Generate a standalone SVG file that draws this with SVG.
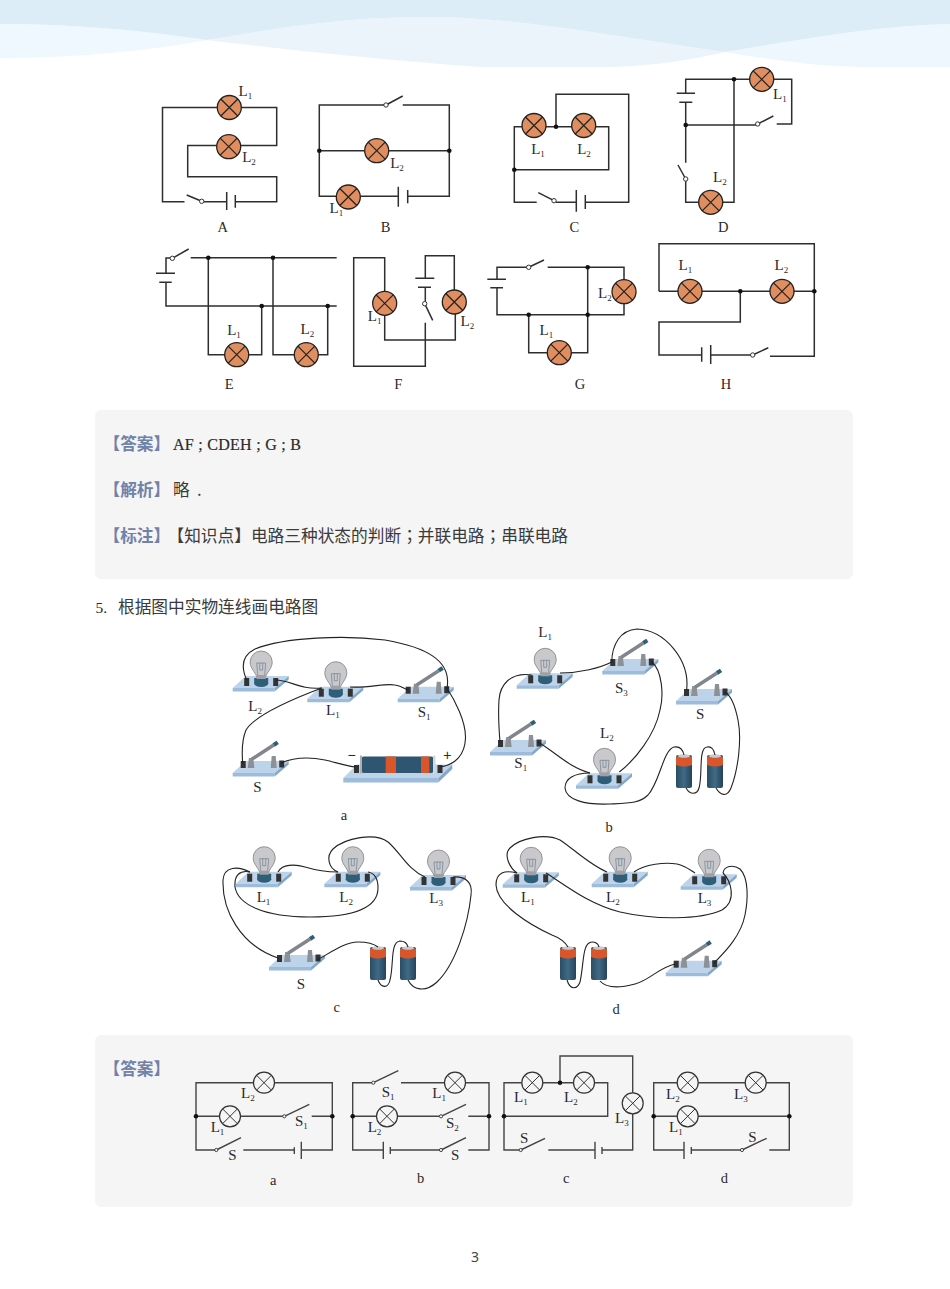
<svg xmlns="http://www.w3.org/2000/svg" width="950" height="1289" viewBox="0 0 950 1289">
<style>
text{font-family:"Liberation Serif","Noto Sans CJK SC",serif;fill:#2a2a2a}
.t{font-size:15px}
.b{font-size:9px}
.c{font-size:14.5px;text-anchor:middle}
.cjk{font-family:"Noto Sans CJK SC",sans-serif;font-size:16.7px;fill:#3a3a3a}
.tc{font-family:"Noto Sans CJK TC",sans-serif}
.h{font-family:"Noto Sans CJK SC",sans-serif;font-size:16.7px;font-weight:700;fill:#6f82a8}
.w{fill:none;stroke:#2e2e2e;stroke-width:1.5}
.p{fill:none;stroke:#222;stroke-width:1.1}
.a{fill:none;stroke:#444;stroke-width:1.4}
.dot{fill:#111}
.sw{fill:#fff;stroke:#333;stroke-width:1}
.swa{fill:#f5f5f6;stroke:#333;stroke-width:.9}
</style>
<defs>
<g id="lamp"><circle r="12" fill="#e08d5f" stroke="#222" stroke-width="1.3"/><path d="M-8.5-8.5L8.5 8.5M-8.5 8.5L8.5-8.5" stroke="#222" stroke-width="1.2" fill="none"/></g>
<g id="lampa"><circle r="10.5" fill="#f5f5f6" stroke="#333" stroke-width="1.2"/><path d="M-7.4-7.4L7.4 7.4M-7.4 7.4L7.4-7.4" stroke="#333" stroke-width="1" fill="none"/></g>
<g id="board"><polygon points="0,-3 42,-3 56,-15 13,-15" fill="#bdd3ea"/><polygon points="0,-3 42,-3 42,0.5 0,0.5" fill="#9dbcdc"/><polygon points="42,-3 56,-15 56,-11.5 42,0.5" fill="#84a8cc"/></g>
<g id="bulbkit"><use href="#board"/>
<ellipse cx="28.5" cy="-7.5" rx="7" ry="3.5" fill="#2f5f78"/><rect x="21.5" y="-13" width="14" height="5.5" fill="#2f5f78"/>
<path d="M24-14C23-19 17.5-22 17.5-29A11 11 0 0 1 39.5-29C39.5-22 34-19 33-14Z" fill="#c9c9cc" stroke="#8a8a8e" stroke-width=".9"/>
<rect x="24" y="-16" width="9" height="4" fill="#a0a0a6"/>
<path d="M25-16L24-28H33L32-16M27-28V-21H30V-28" fill="none" stroke="#6d7f92" stroke-width=".7"/>
<rect x="11.5" y="-13" width="5" height="8" fill="#333"/><rect x="40.5" y="-13" width="5" height="8" fill="#333"/></g>
<g id="knife"><use href="#board"/>
<rect x="8" y="-15" width="5" height="7" fill="#333"/><rect x="46.5" y="-15.5" width="5" height="7" fill="#333"/>
<polygon points="15,-8 21.7,-8 20.5,-18 16.2,-18" fill="#8d9095"/><polygon points="38,-8 44,-8 43,-20 39,-20" fill="#8d9095"/>
<path d="M19-16.7L41-31" stroke="#80868c" stroke-width="3.5" fill="none"/><path d="M41-31L45-33.7" stroke="#2f5f78" stroke-width="4" fill="none"/></g>
<linearGradient id="cell" x1="0" x2="1" y1="0" y2="0"><stop offset="0" stop-color="#2b4d63"/><stop offset=".5" stop-color="#3f6a85"/><stop offset="1" stop-color="#25435a"/></linearGradient>
<g id="cellv"><rect x="-8" y="0" width="16" height="33" rx="2" fill="url(#cell)"/><path d="M-8 2Q0-2 8 2V10Q0 13-8 10Z" fill="#d9562a"/><ellipse cy="1" rx="6" ry="1.8" fill="#c6c9cc"/></g>
</defs>
<rect width="950" height="1289" fill="#fff"/>
<g id="header">
<path d="M0 24C70 24 140 30 207 40C140 52 70 58 0 58Z" fill="#eff8fe"/>
<path d="M207 40C280 28 340 17 430 17C520 17 620 38 725 52C690 60 650 67 600 67H480C380 60 290 50 207 40Z" fill="#ebf4fa"/>
<path d="M725 52C800 40 870 26 950 24V67H870C820 67 770 60 725 52Z" fill="#eef7fd"/>
<path d="M0 0H950V24C870 26 800 40 725 52C620 38 520 17 430 17C340 17 280 28 207 40C140 30 70 24 0 24Z" fill="#dcedf8"/>
</g>
<rect id="panel1" x="95" y="410" width="758" height="169" rx="6" fill="#f5f5f6"/>
<rect id="panel2" x="95" y="1035" width="758" height="172" rx="6" fill="#f5f5f6"/>
<g id="answer-text">
<text class="h" x="103.5" y="450">【答案】</text>
<text x="173" y="450" font-size="16" textLength="128" stroke="#2a2a2a" stroke-width=".2">AF ; CDEH ; G ; B</text>
<text class="h" x="103.5" y="495.5">【解析】</text>
<text class="cjk" x="173" y="495.5">略</text><text class="cjk" x="197" y="495.5">.</text>
<text class="h" x="103.5" y="542">【标注】</text>
<text class="cjk" x="167.5" y="542">【知识点】电路三种状态的判断<tspan class="tc">；</tspan>并联电路<tspan class="tc">；</tspan>串联电路</text>
<text x="95.5" y="612.5" font-size="15.5" fill="#3a3a3a">5.</text>
<text class="cjk" x="118" y="613">根据图中实物连线画电路图</text>
<text class="h" x="103.5" y="1074.5">【答案】</text>
<text x="475" y="1262" text-anchor="middle" font-size="14" style="font-family:'Noto Sans',sans-serif;fill:#444">3</text>
</g>

<!-- physical parts (below wires) -->
<g id="phys-a-L2"><use href="#bulbkit" x="232.7" y="691"/><text class="t" x="248.3" y="710.7">L<tspan class="b" dy="3">2</tspan></text></g>
<g id="phys-a-L1"><use href="#bulbkit" x="307.3" y="701.7"/><text class="t" x="326" y="715">L<tspan class="b" dy="3">1</tspan></text></g>
<g id="phys-a-S1"><use href="#knife" x="397.7" y="701.7"/><text class="t" x="417.7" y="717.3">S<tspan class="b" dy="3">1</tspan></text></g>
<g id="phys-a-S"><use href="#knife" x="232.7" y="776"/><text class="t" x="253.3" y="791.7">S</text></g>
<g id="phys-a-bat">
<polygon points="343.3,778 438.3,778 452.3,764.5 357,764.5" fill="#bdd3ea"/><polygon points="343.3,778 438.3,778 438.3,782.5 343.3,782.5" fill="#9dbcdc"/><polygon points="438.3,778 452.3,764.5 452.3,769 438.3,782.5" fill="#84a8cc"/>
<rect x="361.7" y="756.5" width="71.6" height="16.5" rx="2" fill="#2f5670"/>
<rect x="385.7" y="756.5" width="10.3" height="16.5" fill="#d9562a"/><rect x="421" y="756.5" width="8.3" height="16.5" fill="#d9562a"/>
<rect x="433" y="755.5" width="2.5" height="18" fill="#d5d8db"/><rect x="360" y="755.5" width="2" height="18" fill="#aab0b5"/>
<rect x="354" y="765" width="5" height="8" fill="#333"/><rect x="437.5" y="765" width="5" height="8" fill="#333"/>
<text x="351.7" y="760" font-size="14" text-anchor="middle" style="font-family:'Liberation Sans'">−</text><text x="447.3" y="760" font-size="14" text-anchor="middle" style="font-family:'Liberation Sans'">+</text></g>
<g id="phys-b-L1"><use href="#bulbkit" x="516.7" y="688.3"/><text class="t" x="538.3" y="637.3">L<tspan class="b" dy="3">1</tspan></text></g>
<g id="phys-b-S3"><use href="#knife" x="602.3" y="674"/><text class="t" x="615" y="692.7">S<tspan class="b" dy="3">3</tspan></text></g>
<g id="phys-b-S"><use href="#knife" x="676" y="704"/><text class="t" x="696" y="719.3">S</text></g>
<g id="phys-b-S1"><use href="#knife" x="490" y="755"/><text class="t" x="514.3" y="768.3">S<tspan class="b" dy="3">1</tspan></text></g>
<g id="phys-b-L2"><use href="#bulbkit" x="576" y="788.3"/><text class="t" x="600" y="738.3">L<tspan class="b" dy="3">2</tspan></text></g>
<g id="phys-b-cell1"><use href="#cellv" x="684" y="755"/></g>
<g id="phys-b-cell2"><use href="#cellv" x="715" y="755"/></g>
<g id="phys-c-L1"><use href="#bulbkit" x="235.7" y="886.7"/><text class="t" x="256.7" y="901.7">L<tspan class="b" dy="3">1</tspan></text></g>
<g id="phys-c-L2"><use href="#bulbkit" x="324.3" y="886.7"/><text class="t" x="339.3" y="901.7">L<tspan class="b" dy="3">2</tspan></text></g>
<g id="phys-c-L3"><use href="#bulbkit" x="410" y="890"/><text class="t" x="429.3" y="903.3">L<tspan class="b" dy="3">3</tspan></text></g>
<g id="phys-c-S"><use href="#knife" x="269" y="970"/><text class="t" x="296.7" y="989.3">S</text></g>
<g id="phys-c-cell1"><use href="#cellv" x="378" y="947"/></g>
<g id="phys-c-cell2"><use href="#cellv" x="408" y="947"/></g>
<g id="phys-d-L1"><use href="#bulbkit" x="502.7" y="887.3"/><text class="t" x="521" y="901.7">L<tspan class="b" dy="3">1</tspan></text></g>
<g id="phys-d-L2"><use href="#bulbkit" x="591.7" y="886.7"/><text class="t" x="606" y="901.7">L<tspan class="b" dy="3">2</tspan></text></g>
<g id="phys-d-L3"><use href="#bulbkit" x="680.7" y="889.3"/><text class="t" x="697.7" y="902.7">L<tspan class="b" dy="3">3</tspan></text></g>
<g id="phys-d-S"><use href="#knife" x="665.7" y="975.7"/></g>
<g id="phys-d-cell1"><use href="#cellv" x="568" y="947"/></g>
<g id="phys-d-cell2"><use href="#cellv" x="599" y="947"/></g>

<g id="connectors">
<!-- A -->
<path class="w" d="M184.5 201.7H162.5V107.5H276.7V145.5H187.7V176.7H276.7V201.7H235.3M203.5 201.7H226.7"/>
<!-- B -->
<path class="w" d="M384 105H319.3V196.3H398.3M402.7 105H449.3V196.3H407.7M319.3 150.7H449.3"/>
<!-- C -->
<path class="w" d="M536.7 202.3H514.3V126.7H608.7V169.7H514.3M556 126.7V94.3H628.7V202.3H585.3M556 202.3H576.3"/>
<!-- D -->
<path class="w" d="M685.7 93.3V79.3H791.7V124H776.7M685.7 102.3V162.7M685.7 125H756M734 79.3V202.3H685.7V181"/>
<!-- E -->
<path class="w" d="M166 273.3V258H170.3M190.7 257.7H336.7M166 282.3V306H336.7M208.3 257.7V354.7H261.7V306M273 257.7V354.7H327.7V306"/>
<!-- F -->
<path class="w" d="M384.7 303V257.7H353.7V366.3H425.3V322.7M384.7 303V340H455.3V302M454.3 302V255.7H425.3V278.3M425.3 287.3V301.7"/>
<!-- G -->
<path class="w" d="M497 279.3V267.3H527M547.7 267.3H624V314.7H497V287.7M587.7 267.3V352.7H528.7V314.7"/>
<!-- H -->
<path class="w" d="M659 291.3V243.7H814.3V356.3H770M659 291.3H814.3M740.3 291.3V322H659V355H701.7M710.7 355H751"/>
<!-- batteries as wire-drawn plates -->
<path class="w" d="M226.7 192V210M235.3 195V207.7M398.3 186.7V206.7M407.7 190V203.3M576.3 190V211.7M585.3 195V209M676.7 93.3H695M679.3 102.3H692.3M156 273.3H175M159.3 282.3H171.7M415.3 278.3H434.3M418 287.3H431M487.3 279.3H506M490.3 287.7H503M701.7 347.3V361.7M710.7 345V364"/>
<!-- physical wires -->
<path class="p" d="M246.7 680C240 665 243 655 255 649C285 637 345 635 385 640C425 647 452 660 447 688"/>
<path class="p" d="M275.7 680C290 680 300 690 321.7 688"/>
<path class="p" d="M321.7 688C290 700 255 715 246 730C241 742 242 755 242.7 763"/>
<path class="p" d="M350 687C370 688 385 683 395 685C402 686 404 689 408.3 690"/>
<path class="p" d="M446.7 688C455 700 466 722 465.5 738C465 755 455 765 440 767"/>
<path class="p" d="M281 763C295 757 310 757 325 760C335 762 345 766 356 767"/>
<path class="p" d="M531.7 675C510 672 500 685 499 700C498 715 499 730 500 742"/>
<path class="p" d="M560 673C580 673 600 668 611.7 662"/>
<path class="p" d="M611.7 662C612 645 620 630 637 629C665 630 690 660 686.7 690"/>
<path class="p" d="M651.7 662C662 670 664 695 660 710C655 735 635 760 619.3 772"/>
<path class="p" d="M538 742C555 752 570 768 590 773"/>
<path class="p" d="M590 773C575 773 565 778 565 788C566 800 585 805 610 804C630 803 640 803 648 795C660 782 663 750 674 747C680 746 683 750 684 755"/>
<path class="p" d="M686 788C690 795 697 795 699 788C703 775 698 748 707 747C712 746 714 750 715 755"/>
<path class="p" d="M716 788C720 795 727 798 731 788C738 770 742 740 738 720C735 705 730 695 725 692"/>
<path class="p" d="M250 872C238 866 224 866 223 880C222 910 240 945 278 958"/>
<path class="p" d="M250 872C240 870 234 875 235 887C238 905 265 917 310 917C350 917 378 910 378 888C378 878 374 873 368 872"/>
<path class="p" d="M278 872C282 864 295 864 305 867C315 870 328 872 338 872"/>
<path class="p" d="M338 872C328 868 326 856 333 849C345 838 375 832 388 842C400 852 408 870 425 877"/>
<path class="p" d="M453 877C465 876 473 882 471 895C468 925 455 965 437 982C425 993 413 990 408 980"/>
<path class="p" d="M317 960C330 953 345 942 358 942C368 942 373 943 378 947"/>
<path class="p" d="M378 980C381 988 388 989 390 980C394 965 390 942 400 941C405 941 407 943 408 947"/>
<path class="p" d="M517 873C505 870 496 872 496 885C497 905 530 925 552 935C560 938 565 942 568 947"/>
<path class="p" d="M517 873C510 868 503 855 510 848C520 838 545 833 560 840C575 850 590 865 607 872"/>
<path class="p" d="M546 873C565 885 590 905 620 912C655 920 700 920 722 910C738 900 730 880 723 873"/>
<path class="p" d="M634 872C645 864 665 862 677 864C686 866 690 870 695 873"/>
<path class="p" d="M723 873C724 866 733 864 740 869C749 878 748 900 745 915C741 935 727 950 714 963"/>
<path class="p" d="M567 980C570 990 577 990 580 982C584 965 582 942 592 942C596 942 598 943 599 947"/>
<path class="p" d="M600 981C606 988 620 988 635 984C650 980 658 968 675 964"/>
<!-- answer a -->
<path class="a" d="M215 1150H196V1082.7H332.3V1150H301.3M243.3 1150H294.3M196 1116.3H283M311.7 1116.3H332.3"/>
<path class="a" d="M294.3 1147.3V1154M301.3 1141.7V1159"/>
<!-- answer b -->
<path class="a" d="M372 1082.7H352.7V1150H383.3M401 1082.7H489V1150H468.3M352.7 1116.3H440M468.3 1116.3H489M390.3 1150H440"/>
<path class="a" d="M383.3 1141.7V1159M390.3 1147V1154"/>
<!-- answer c -->
<path class="a" d="M519 1150H504V1082.7H607.7V1116.3H504M560 1082.7V1056H632.7V1150H602M548.3 1150H595"/>
<path class="a" d="M595 1141.7V1159M602 1147V1154"/>
<!-- answer d -->
<path class="a" d="M684 1150H653.7V1082.7H789.3V1150H769.3M653.7 1116.3H789.3M691.3 1150H741"/>
<path class="a" d="M684 1141.7V1159M691.3 1147V1154"/>
</g>

<!-- schematic A -->
<g id="A-L1"><use href="#lamp" x="229.3" y="107.5"/><text class="t" x="238.5" y="95.5">L<tspan class="b" dy="3">1</tspan></text></g>
<g id="A-L2"><use href="#lamp" x="228.7" y="146.7"/><text class="t" x="242.2" y="161.7">L<tspan class="b" dy="3">2</tspan></text></g>
<g id="A-S"><path class="w" d="M201.7 201.3L186.7 195"/><circle class="sw" cx="201.7" cy="201.3" r="2.2"/></g>
<text id="A-name" class="c" x="222.7" y="232">A</text>
<!-- B -->
<g id="B-L2"><use href="#lamp" x="376.7" y="150.7"/><text class="t" x="390.2" y="168.3">L<tspan class="b" dy="3">2</tspan></text></g>
<g id="B-L1"><use href="#lamp" x="348.3" y="197"/><text class="t" x="329.5" y="212.7">L<tspan class="b" dy="3">1</tspan></text></g>
<g id="B-S"><path class="w" d="M386 105L402.7 96"/><circle class="sw" cx="386" cy="105" r="2.2"/></g>
<circle class="dot" cx="319.3" cy="150.7" r="2.3"/><circle class="dot" cx="449.3" cy="150.7" r="2.3"/>
<text id="B-name" class="c" x="385.7" y="232">B</text>
<!-- C -->
<g id="C-L1"><use href="#lamp" x="534" y="125.5"/><text class="t" x="531.2" y="154.3">L<tspan class="b" dy="3">1</tspan></text></g>
<g id="C-L2"><use href="#lamp" x="583.7" y="125.5"/><text class="t" x="577.2" y="154.3">L<tspan class="b" dy="3">2</tspan></text></g>
<g id="C-S"><path class="w" d="M554 200.7L538.3 192.7"/><circle class="sw" cx="554" cy="200.7" r="2.2"/></g>
<circle class="dot" cx="556" cy="126.7" r="2.3"/><circle class="dot" cx="514.3" cy="169.7" r="2.3"/>
<text id="C-name" class="c" x="574.3" y="232">C</text>
<!-- D -->
<g id="D-L1"><use href="#lamp" x="761.7" y="79.3"/><text class="t" x="773" y="99.3">L<tspan class="b" dy="3">1</tspan></text></g>
<g id="D-L2"><use href="#lamp" x="710.7" y="202.3"/><text class="t" x="713" y="181.7">L<tspan class="b" dy="3">2</tspan></text></g>
<g id="D-S1"><path class="w" d="M757.7 124L773.3 116"/><circle class="sw" cx="757.7" cy="124" r="2.2"/></g>
<g id="D-S2"><path class="w" d="M685.7 179L678 165"/><circle class="sw" cx="685.7" cy="179" r="2.2"/></g>
<circle class="dot" cx="685.7" cy="125" r="2.3"/><circle class="dot" cx="734" cy="79.3" r="2.3"/>
<text id="D-name" class="c" x="723.3" y="232">D</text>
<!-- E -->
<g id="E-L1"><use href="#lamp" x="236.7" y="354.7"/><text class="t" x="227.2" y="335">L<tspan class="b" dy="3">1</tspan></text></g>
<g id="E-L2"><use href="#lamp" x="306.3" y="354.7"/><text class="t" x="300.5" y="334">L<tspan class="b" dy="3">2</tspan></text></g>
<g id="E-S"><path class="w" d="M172.3 258.3L188.7 249"/><circle class="sw" cx="172.3" cy="258.3" r="2.2"/></g>
<circle class="dot" cx="208.3" cy="257.7" r="2.3"/><circle class="dot" cx="273" cy="257.7" r="2.3"/><circle class="dot" cx="261.7" cy="306" r="2.3"/><circle class="dot" cx="327.7" cy="306" r="2.3"/>
<text id="E-name" class="c" x="229.3" y="389">E</text>
<!-- F -->
<g id="F-L1"><use href="#lamp" x="384.7" y="303.3"/><text class="t" x="367.8" y="320.7">L<tspan class="b" dy="3">1</tspan></text></g>
<g id="F-L2"><use href="#lamp" x="454.3" y="302"/><text class="t" x="460.5" y="326">L<tspan class="b" dy="3">2</tspan></text></g>
<g id="F-S"><path class="w" d="M424.7 303.7L432.7 320.3"/><circle class="sw" cx="424.7" cy="303.7" r="2.2"/></g>
<text id="F-name" class="c" x="398.3" y="389">F</text>
<!-- G -->
<g id="G-L2"><use href="#lamp" x="624" y="291.7"/><text class="t" x="598" y="298.3">L<tspan class="b" dy="3">2</tspan></text></g>
<g id="G-L1"><use href="#lamp" x="559.3" y="352.7"/><text class="t" x="539.5" y="335">L<tspan class="b" dy="3">1</tspan></text></g>
<g id="G-S"><path class="w" d="M528.7 267.3L544 260"/><circle class="sw" cx="528.7" cy="267.3" r="2.2"/></g>
<circle class="dot" cx="587.7" cy="267.3" r="2.3"/><circle class="dot" cx="587.7" cy="314.7" r="2.3"/><circle class="dot" cx="528.7" cy="314.7" r="2.3"/>
<text id="G-name" class="c" x="580" y="389">G</text>
<!-- H -->
<g id="H-L1"><use href="#lamp" x="690" y="291.3"/><text class="t" x="678.5" y="270">L<tspan class="b" dy="3">1</tspan></text></g>
<g id="H-L2"><use href="#lamp" x="782" y="291.3"/><text class="t" x="774.5" y="270">L<tspan class="b" dy="3">2</tspan></text></g>
<g id="H-S"><path class="w" d="M752.7 355L768.3 347.7"/><circle class="sw" cx="752.7" cy="355" r="2.2"/></g>
<circle class="dot" cx="740.3" cy="291.3" r="2.3"/><circle class="dot" cx="814.3" cy="291.3" r="2.3"/>
<text id="H-name" class="c" x="726" y="389">H</text>

<text id="phys-a-name" class="c" x="344" y="819.5">a</text>
<text id="phys-b-name" class="c" x="609" y="832">b</text>
<text id="phys-c-name" class="c" x="336.7" y="1012">c</text>
<text id="phys-d-name" class="c" x="616" y="1013.5">d</text>

<!-- answers a -->
<g id="ans-a-L2"><use href="#lampa" x="264" y="1082.7"/><text class="t" x="241" y="1098.3">L<tspan class="b" dy="3">2</tspan></text></g>
<g id="ans-a-L1"><use href="#lampa" x="230" y="1116.3"/><text class="t" x="210.7" y="1132.3">L<tspan class="b" dy="3">1</tspan></text></g>
<g id="ans-a-S1"><path class="a" d="M284.3 1116.3L309.3 1104.3"/><circle class="swa" cx="284.3" cy="1116.3" r="1.6"/><text class="t" x="295" y="1126">S<tspan class="b" dy="3">1</tspan></text></g>
<g id="ans-a-S"><path class="a" d="M216.3 1150L241 1137.7"/><circle class="swa" cx="216.3" cy="1150" r="1.6"/><text class="t" x="228.3" y="1160">S</text></g>
<circle class="dot" cx="196" cy="1116.3" r="2.3"/><circle class="dot" cx="332.3" cy="1116.3" r="2.3"/>
<text id="ans-a-name" class="c" x="273.3" y="1184.5">a</text>
<!-- answers b -->
<g id="ans-b-L1"><use href="#lampa" x="455" y="1082.7"/><text class="t" x="432.3" y="1098.3">L<tspan class="b" dy="3">1</tspan></text></g>
<g id="ans-b-L2"><use href="#lampa" x="387" y="1116.3"/><text class="t" x="367.7" y="1132.3">L<tspan class="b" dy="3">2</tspan></text></g>
<g id="ans-b-S1"><path class="a" d="M373.3 1082.7L398.3 1070.7"/><circle class="swa" cx="373.3" cy="1082.7" r="1.6"/><text class="t" x="381.7" y="1096.7">S<tspan class="b" dy="3">1</tspan></text></g>
<g id="ans-b-S2"><path class="a" d="M441 1116.3L466 1104.3"/><circle class="swa" cx="441" cy="1116.3" r="1.6"/><text class="t" x="446" y="1128.3">S<tspan class="b" dy="3">2</tspan></text></g>
<g id="ans-b-S"><path class="a" d="M441 1150L466 1137.7"/><circle class="swa" cx="441" cy="1150" r="1.6"/><text class="t" x="451" y="1160">S</text></g>
<circle class="dot" cx="352.7" cy="1116.3" r="2.3"/><circle class="dot" cx="489" cy="1116.3" r="2.3"/>
<text id="ans-b-name" class="c" x="420.7" y="1182.5">b</text>
<!-- answers c -->
<g id="ans-c-L1"><use href="#lampa" x="532.3" y="1082.7"/><text class="t" x="514" y="1101.7">L<tspan class="b" dy="3">1</tspan></text></g>
<g id="ans-c-L2"><use href="#lampa" x="584" y="1082.7"/><text class="t" x="564" y="1101.7">L<tspan class="b" dy="3">2</tspan></text></g>
<g id="ans-c-L3"><use href="#lampa" x="632.7" y="1103.3"/><text class="t" x="615" y="1123.3">L<tspan class="b" dy="3">3</tspan></text></g>
<g id="ans-c-S"><path class="a" d="M520.7 1150L545 1138.3"/><circle class="swa" cx="520.7" cy="1150" r="1.6"/><text class="t" x="520" y="1142.7">S</text></g>
<circle class="dot" cx="560" cy="1082.7" r="2.3"/><circle class="dot" cx="504" cy="1116.3" r="2.3"/>
<text id="ans-c-name" class="c" x="566.3" y="1182.7">c</text>
<!-- answers d -->
<g id="ans-d-L2"><use href="#lampa" x="687.7" y="1082.7"/><text class="t" x="666" y="1099.3">L<tspan class="b" dy="3">2</tspan></text></g>
<g id="ans-d-L3"><use href="#lampa" x="755.7" y="1082.7"/><text class="t" x="734" y="1099.3">L<tspan class="b" dy="3">3</tspan></text></g>
<g id="ans-d-L1"><use href="#lampa" x="687.7" y="1116.3"/><text class="t" x="669" y="1132.3">L<tspan class="b" dy="3">1</tspan></text></g>
<g id="ans-d-S"><path class="a" d="M742 1150L766.7 1138.3"/><circle class="swa" cx="742" cy="1150" r="1.6"/><text class="t" x="748.3" y="1141.7">S</text></g>
<circle class="dot" cx="653.7" cy="1116.3" r="2.3"/><circle class="dot" cx="789.3" cy="1116.3" r="2.3"/>
<text id="ans-d-name" class="c" x="724.3" y="1182.7">d</text>
</svg>
